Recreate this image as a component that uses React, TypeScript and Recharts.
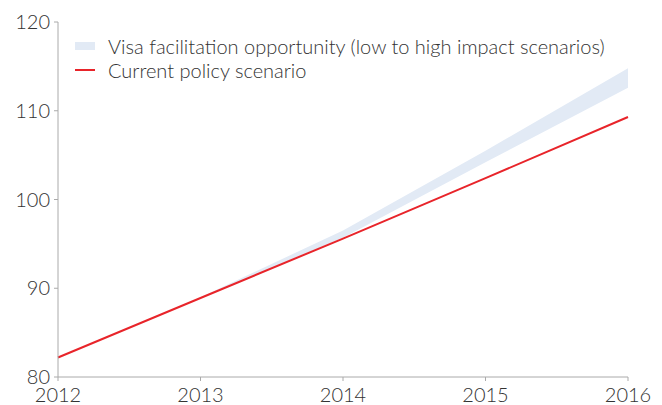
import { Area, ComposedChart, Line, XAxis, YAxis } from "recharts";

document.body.style.margin = "0";

const years = [2012, 2013, 2014, 2015, 2016];
const currentPolicy = [82.2, 88.9, 95.6, 102.4, 109.3];
const bandLow = [null, 88.9, 95.7, 104.2, 112.6];
const bandHigh = [null, 89.0, 96.5, 105.5, 114.8];
const yTicks = [80, 90, 100, 110, 120];

const BAND = "#e2eaf5";
const RED = "#e8242a";
const TEXT = "#333";
const AXIS = "#aaa";
const FONT = "Lato, 'Liberation Sans', sans-serif";

const data = years.map((y, i) => ({
  year: y,
  current: currentPolicy[i],
  band: bandLow[i] == null ? null : [bandLow[i], bandHigh[i]],
}));

function ChartLegend() {
  const row = { display: "flex", alignItems: "center", height: 24 } as const;
  const label = { fontSize: 20, color: TEXT, marginLeft: 13, fontWeight: 300, lineHeight: "24px" } as const;
  return (
    <div style={{ position: "absolute", left: 75, top: 34, fontFamily: FONT }}>
      <div style={row}>
        <span style={{ width: 20, height: 8, background: BAND, display: "inline-block" }} />
        <span style={label}>Visa facilitation opportunity (low to high impact scenarios)</span>
      </div>
      <div style={row}>
        <span style={{ width: 20, height: 2, background: RED, display: "inline-block" }} />
        <span style={label}>Current policy scenario</span>
      </div>
    </div>
  );
}

export default function App() {
  const tick = { fill: TEXT, fontSize: 20, fontFamily: FONT, fontWeight: 300 };
  return (
    <div style={{ position: "relative", width: 662, height: 405 }}>
      <ComposedChart width={662} height={405} data={data} margin={{ top: 22, right: 34, left: 0, bottom: 0 }}>
        <XAxis
          dataKey="year"
          type="number"
          domain={[2012, 2016]}
          ticks={years}
          height={28}
          tick={tick}
          tickSize={4}
          tickMargin={7}
          stroke={AXIS}
          interval={0}
        />
        <YAxis
          domain={[80, 120]}
          ticks={yTicks}
          width={58}
          tick={tick}
          tickSize={4}
          tickMargin={4}
          stroke={AXIS}
          interval={0}
        />
        <Area dataKey="band" stroke="none" fill={BAND} fillOpacity={1} isAnimationActive={false} connectNulls={false} />
        <Line dataKey="current" stroke={RED} strokeWidth={2} dot={false} isAnimationActive={false} />
      </ComposedChart>
      <ChartLegend />
    </div>
  );
}
